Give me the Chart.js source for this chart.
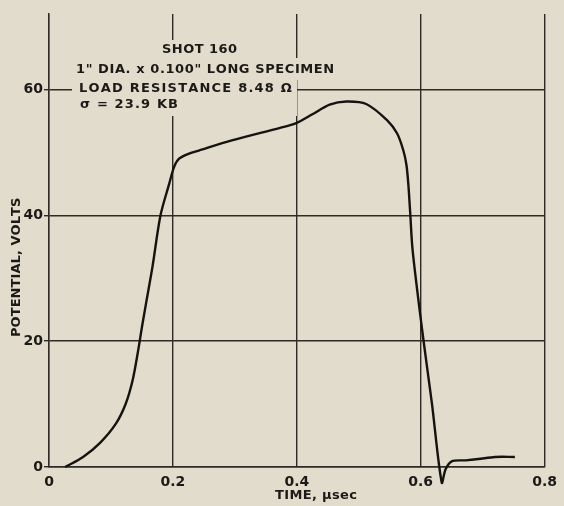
<!DOCTYPE html>
<html>
<head>
<meta charset="utf-8">
<script src="https://cdn.jsdelivr.net/npm/chart.js@4/dist/chart.umd.min.js"></script>
<style>
	html, body { margin: 0; padding: 0; background: #e2dccd; }
	#wrap { width: 564px; height: 506px; }
</style>
</head>
<body>
<div id="wrap"><canvas id="chart" width="564" height="506"></canvas></div>
<script>
// curve: time in microseconds, potential in volts
var timeUs = [0.026, 0.055, 0.082, 0.108, 0.124, 0.135, 0.143, 0.151, 0.157, 0.167, 0.180, 0.194, 0.202, 0.210, 0.226, 0.242,
	0.295, 0.373, 0.398, 0.426, 0.453, 0.480, 0.512, 0.546, 0.562, 0.572, 0.577, 0.580, 0.583, 0.587,
	0.604, 0.618, 0.634, 0.640, 0.650, 0.672, 0.693, 0.720, 0.752];
var potentialV = [0, 1.6, 3.8, 6.9, 10.1, 13.8, 18.0, 22.8, 26.2, 31.8, 40.0, 45.0, 47.7, 49.0, 49.8, 50.3,
	51.9, 53.9, 54.6, 56.1, 57.6, 58.1, 57.7, 55.1, 53.0, 50.3, 48.0, 45.0, 40.5, 34.4,
	20.5, 10.2, -2.5, -0.4, 0.9, 1.06, 1.27, 1.6, 1.6];
var xTicks = [0, 0.2, 0.4, 0.6, 0.8];
var yTicks = [0, 20, 40, 60];
var noteLines = ['SHOT 160', '1" DIA. x 0.100" LONG SPECIMEN', 'LOAD RESISTANCE 8.48 \u03A9', '\u03C3 = 23.9 KB'];
var xTitle = 'TIME, \u00B5sec';
var yTitle = 'POTENTIAL, VOLTS';

var PAPER = '#e2dccd';
var INK = '#1c1a17';
var GRID = '#2e2a26';
var FONT = '"DejaVu Sans", sans-serif';

var pts = [];
for (var i = 0; i < timeUs.length; i++) pts.push({x: timeUs[i], y: potentialV[i]});

// draw text stretched to a given width by spreading the letters
function spread(ctx, text, x0, x1, y) {
	var w = ctx.measureText(text).width;
	var gap = text.length > 1 ? ((x1 - x0) - w) / (text.length - 1) : 0;
	var x = x0;
	ctx.textAlign = 'left';
	for (var i = 0; i < text.length; i++) {
		ctx.fillText(text[i], x, y);
		x += ctx.measureText(text[i]).width + gap;
	}
}

var notes = {
	id: 'notes',
	afterDatasetsDraw: function(chart) {
		var ctx = chart.ctx;
		ctx.save();
		// the lettering was pasted over the grid
		ctx.fillStyle = PAPER;
		ctx.fillRect(158, 40, 84, 18);
		ctx.fillRect(72, 58, 270, 22);
		ctx.fillRect(72, 80, 225, 36);
		ctx.fillStyle = INK;
		ctx.textBaseline = 'middle';
		ctx.font = 'bold 13px ' + FONT;
		spread(ctx, noteLines[0], 162, 237, 50);
		spread(ctx, noteLines[1], 76, 334, 70);
		spread(ctx, noteLines[2], 79, 290, 89);
		spread(ctx, noteLines[3], 80, 178, 105);
		// axis titles
		ctx.font = 'bold 13px ' + FONT;
		spread(ctx, xTitle, 275, 357, 496);
		ctx.translate(17, 337);
		ctx.rotate(-Math.PI / 2);
		spread(ctx, yTitle, 0, 137, 0);
		ctx.restore();
	}
};

var c = new Chart(document.getElementById('chart'), {
	type: 'scatter',
	data: {
		datasets: [{
			data: pts,
			showLine: true,
			borderColor: '#151310',
			borderWidth: 2.4,
			pointRadius: 0,
			tension: 0.3,
			clip: false
		}]
	},
	options: {
		responsive: false,
		animation: false,
		layout: { padding: { top: 14, right: 15, left: 0, bottom: 0 } },
		plugins: { legend: { display: false }, tooltip: { enabled: false } },
		scales: {
			x: {
				type: 'linear',
				min: 0, max: 0.8,
				afterBuildTicks: function(s) { s.ticks = xTicks.map(function(v) { return {value: v}; }); },
				afterFit: function(s) { s.height = 39; },
				ticks: {
					color: INK,
					font: { family: FONT, size: 14, weight: 'bold' },
					padding: 7,
					maxRotation: 0,
					callback: function(v) { return v === 0 ? '0' : v.toFixed(1); }
				},
				grid: { color: GRID, lineWidth: 1.4, drawTicks: false },
				border: { color: GRID, width: 1.4 }
			},
			y: {
				min: 0, max: 72,
				afterBuildTicks: function(s) { s.ticks = yTicks.map(function(v) { return {value: v}; }); },
				afterFit: function(s) { s.width = 49; },
				ticks: {
					color: INK,
					font: { family: FONT, size: 14, weight: 'bold' },
					padding: 1
				},
				grid: { color: GRID, lineWidth: 1.4, tickLength: 5 },
				border: { color: GRID, width: 1.4 }
			}
		}
	},
	plugins: [notes]
});
</script>
</body>
</html>
